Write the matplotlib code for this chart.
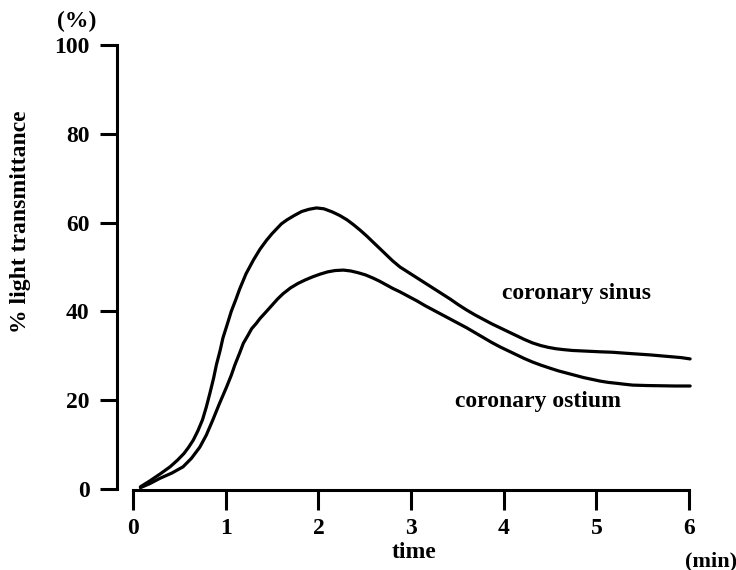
import matplotlib
matplotlib.use("Agg")
import matplotlib.pyplot as plt

plt.rcParams['font.family'] = ['Liberation Serif', 'DejaVu Serif']
plt.rcParams['font.weight'] = 'bold'

# values (time in min, % light transmittance)
sinus_t = [0.08, 0.18, 0.30, 0.40, 0.48, 0.55, 0.60, 0.65, 0.70, 0.75, 0.79,
           0.83, 0.87, 0.90, 0.94, 0.97, 1.02, 1.06, 1.11, 1.15, 1.22, 1.30,
           1.37, 1.44, 1.50, 1.55, 1.60, 1.66, 1.74, 1.82, 1.90, 1.98, 2.06,
           2.15, 2.23, 2.31, 2.38, 2.45, 2.52, 2.59, 2.66, 2.73, 2.80, 2.88,
           2.97, 3.06, 3.15, 3.24, 3.33, 3.42, 3.51, 3.60, 3.69, 3.78, 3.87,
           3.96, 4.05, 4.14, 4.22, 4.31, 4.40, 4.48, 4.56, 4.64, 4.74, 4.84,
           4.94, 5.04, 5.17, 5.30, 5.44, 5.58, 5.69, 5.80, 5.91, 6.01]
sinus_v = [0.5, 1.8, 3.5, 5.0, 6.5, 8.0, 9.4, 11.0, 13.1, 15.6, 18.4,
           21.6, 25.0, 28.0, 31.2, 34.0, 37.3, 40.0, 42.7, 45.0, 48.5, 51.6,
           54.0, 56.0, 57.5, 58.6, 59.7, 60.6, 61.6, 62.5, 63.0, 63.3, 63.1,
           62.4, 61.6, 60.6, 59.5, 58.3, 57.0, 55.6, 54.2, 52.8, 51.4, 50.0,
           48.8, 47.6, 46.4, 45.2, 44.0, 42.8, 41.5, 40.3, 39.2, 38.2, 37.2,
           36.3, 35.4, 34.5, 33.7, 32.9, 32.3, 31.9, 31.6, 31.4, 31.2, 31.1,
           31.0, 30.9, 30.8, 30.6, 30.4, 30.2, 30.0, 29.8, 29.6, 29.3]

ostium_t = [0.08, 0.18, 0.29, 0.42, 0.54, 0.63, 0.72, 0.79, 0.86, 0.93, 1.01,
            1.06, 1.10, 1.15, 1.19, 1.24, 1.28, 1.33, 1.37, 1.44, 1.50, 1.56,
            1.62, 1.70, 1.78, 1.86, 1.94, 2.02, 2.10, 2.18, 2.27, 2.35, 2.43,
            2.51, 2.59, 2.66, 2.73, 2.80, 2.88, 2.97, 3.06, 3.15, 3.24, 3.33,
            3.42, 3.51, 3.60, 3.69, 3.78, 3.87, 3.96, 4.05, 4.14, 4.22, 4.31,
            4.40, 4.50, 4.59, 4.68, 4.77, 4.86, 4.95, 5.04, 5.13, 5.22, 5.30,
            5.39, 5.55, 5.70, 5.85, 6.01]
ostium_v = [0.3, 1.2, 2.4, 3.6, 5.0, 6.9, 9.4, 12.1, 15.5, 19.1, 23.0,
            25.6, 28.0, 30.6, 32.8, 34.6, 36.1, 37.3, 38.4, 40.0, 41.4, 42.8,
            44.0, 45.3, 46.3, 47.1, 47.8, 48.4, 48.9, 49.2, 49.3, 49.1, 48.7,
            48.2, 47.5, 46.8, 46.0, 45.2, 44.4, 43.4, 42.4, 41.3, 40.3, 39.3,
            38.3, 37.3, 36.3, 35.2, 34.1, 33.0, 32.0, 31.1, 30.2, 29.4, 28.6,
            27.9, 27.2, 26.6, 26.1, 25.6, 25.1, 24.7, 24.3, 24.0, 23.8, 23.6,
            23.4, 23.3, 23.25, 23.2, 23.2]

x_ticks = [0, 1, 2, 3, 4, 5, 6]
y_ticks = [0, 20, 40, 60, 80, 100]

fig = plt.figure(figsize=(7.36, 5.70), dpi=100)
ax = fig.add_axes([0.1492, 0.1265, 0.8124, 0.8102])

ax.plot(sinus_t, sinus_v, color='black', lw=2.3, solid_capstyle='round')
ax.plot(ostium_t, ostium_v, color='black', lw=2.3, solid_capstyle='round')

ax.set_xlim(-0.25, 6.2)
ax.set_ylim(-2, 102)

for s in ['top', 'right']:
    ax.spines[s].set_visible(False)
ax.spines['left'].set_position(('data', -0.175))
ax.spines['left'].set_bounds(0, 100)
ax.spines['bottom'].set_position(('data', -0.2))
ax.spines['bottom'].set_bounds(0, 6)
ax.spines['left'].set_linewidth(2.2)
ax.spines['bottom'].set_linewidth(2.2)

ax.set_xticks(x_ticks)
ax.set_yticks(y_ticks)
ax.tick_params(axis='y', direction='out', length=12.5, width=2.2, pad=7,
               labelsize=17)
ax.tick_params(axis='x', direction='out', length=14.5, width=2.2, pad=6,
               labelsize=17)
for lab in ax.get_xticklabels() + ax.get_yticklabels():
    lab.set_fontweight('bold')


def px(x, y):
    return x / 736, 1 - y / 570


fig.text(*px(577, 293), 'coronary sinus', fontsize=17, fontweight='bold',
         ha='center', va='center')
fig.text(*px(538, 402), 'coronary ostium', fontsize=17, fontweight='bold',
         ha='center', va='center')
fig.text(*px(77, 21), '(%)', fontsize=17, fontweight='bold',
         ha='center', va='center')
fig.text(*px(414, 553), 'time', fontsize=17, fontweight='bold',
         ha='center', va='center')
fig.text(*px(711, 561), '(min)', fontsize=16, fontweight='bold',
         ha='center', va='center')
fig.text(*px(21, 222), '% light transmittance', fontsize=17,
         fontweight='bold', ha='center', va='center', rotation=90)

fig.savefig('out.png', dpi=100)
